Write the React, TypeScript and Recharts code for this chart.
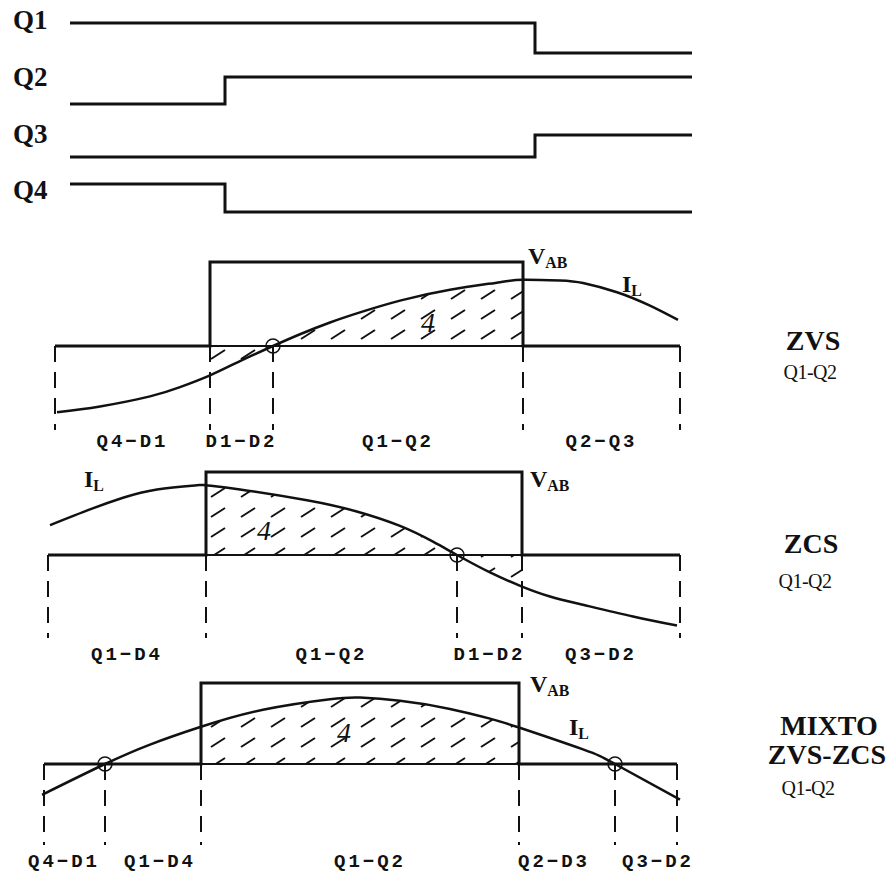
import React from "react";
import {
  ComposedChart,
  LineChart,
  Line,
  Area,
  XAxis,
  YAxis,
  ReferenceLine,
  ReferenceDot,
} from "recharts";

const W = 894;
const H = 875;
const INK = "#111";
const SERIF = '"Liberation Serif", "DejaVu Serif", serif';
const MONO = '"Liberation Mono", "DejaVu Sans Mono", monospace';

// gate drive signals, 1 = on
const gateNames = ["Q1", "Q2", "Q3", "Q4"];
const gateTimes = [70, 225, 535, 692];
const gateQ1 = [1, 1, 0, 0];
const gateQ2 = [0, 1, 1, 1];
const gateQ3 = [0, 0, 1, 1];
const gateQ4 = [1, 0, 0, 0];

// ZVS case
const zvsTime = [57, 100, 150, 180, 210, 240, 273, 300, 330, 360, 400, 450, 500, 523, 560, 583, 617, 650, 678];
const zvsCurrent = [-0.79, -0.72, -0.6, -0.49, -0.35, -0.18, 0, 0.14, 0.28, 0.4, 0.54, 0.67, 0.76, 0.79, 0.78, 0.75, 0.64, 0.48, 0.31];
const zvsEdges = [55, 210, 523, 680];
const zvsVab = [0, 1, 0, 0];
const zvsMarks = [55, 210, 273, 523, 680];
const zvsPhases = ["Q4−D1", "D1−D2", "Q1−Q2", "Q2−Q3"];

// ZCS case
const zcsTime = [50, 90, 123, 157, 197, 206, 240, 307, 355, 400, 433, 457, 490, 522, 550, 583, 633, 677];
const zcsCurrent = [0.36, 0.55, 0.69, 0.79, 0.84, 0.84, 0.79, 0.66, 0.53, 0.35, 0.16, 0, -0.21, -0.38, -0.5, -0.6, -0.74, -0.85];
const zcsEdges = [48, 206, 522, 680];
const zcsVab = [0, 1, 0, 0];
const zcsMarks = [48, 206, 457, 522, 680];
const zcsPhases = ["Q1−D4", "Q1−Q2", "D1−D2", "Q3−D2"];

// mixed ZVS-ZCS case
const mixTime = [42, 105, 150, 201, 263, 330, 360, 400, 450, 490, 519, 583, 615, 680];
const mixCurrent = [-0.38, 0, 0.24, 0.46, 0.67, 0.8, 0.82, 0.78, 0.68, 0.56, 0.45, 0.18, 0, -0.44];
const mixEdges = [44, 201, 519, 677];
const mixVab = [0, 1, 0, 0];
const mixMarks = [44, 105, 201, 519, 615, 677];
const mixPhases = ["Q4−D1", "Q1−D4", "Q1−Q2", "Q2−D3", "Q3−D2"];

const gateLanes = [
  { high: 23, low: 53, labelY: 20 },
  { high: 77, low: 104, labelY: 77 },
  { high: 135, low: 157, labelY: 134 },
  { high: 184, low: 212, labelY: 190 },
];

function GateLane({ levels, lane }: any) {
  const data = gateTimes.map((t, i) => ({ t, v: levels[i] }));
  const pad = 6;
  return (
    <div style={{ position: "absolute", left: 0, top: lane.high - pad }}>
      <LineChart
        width={W}
        height={lane.low - lane.high + pad * 2}
        data={data}
        margin={{ top: pad, right: 0, bottom: pad, left: 0 }}
      >
        <XAxis type="number" dataKey="t" domain={[0, W]} hide />
        <YAxis type="number" domain={[0, 1]} hide />
        <Line
          dataKey="v"
          type="stepAfter"
          stroke={INK}
          strokeWidth={3}
          dot={false}
          isAnimationActive={false}
        />
      </LineChart>
    </div>
  );
}

function Sub({ main, sub, size }: any) {
  return (p: any) => (
    <text x={p.cx} y={p.cy} fontFamily={SERIF} fontWeight="bold" fontSize={size} fill={INK}>
      {main}
      <tspan fontSize={size * 0.66} dy={4}>
        {sub}
      </tspan>
    </text>
  );
}

function Panel(props: any) {
  const { id, top, height, zeroY, unit, time, current, edges, vab, marks, phases, phaseLevel, phaseAt, vabAt, ilAt, areaAt } = props;
  const domain = [-(top + height - zeroY) / unit, (zeroY - top) / unit];
  const il = time.map((t: number, i: number) => ({ t, v: current[i] }));
  const step = edges.map((t: number, i: number) => ({ t, v: vab[i] }));
  const hatch = il.filter((p: any) => p.t >= edges[1] && p.t <= edges[2]);
  const zeros = il.filter((p: any) => p.v === 0);
  const mids = phases.map((name: string, i: number) => ({
    name,
    t: phaseAt ? phaseAt[i] : (marks[i] + marks[i + 1]) / 2,
  }));
  return (
    <div style={{ position: "absolute", left: 0, top }}>
      <ComposedChart width={W} height={height} margin={{ top: 0, right: 0, bottom: 0, left: 0 }}>
        <defs>
          <pattern id={`hatch-${id}`} patternUnits="userSpaceOnUse" width={30} height={20}>
            <line x1={1} y1={19} x2={15} y2={10} stroke={INK} strokeWidth={2} />
          </pattern>
        </defs>
        <XAxis type="number" dataKey="t" domain={[0, W]} hide />
        <YAxis type="number" domain={domain} hide />
        <Area
          data={hatch}
          dataKey="v"
          type="natural"
          baseValue={0}
          fill={`url(#hatch-${id})`}
          fillOpacity={1}
          stroke="none"
          isAnimationActive={false}
        />
        <ReferenceLine
          segment={[
            { x: marks[0], y: 0 },
            { x: marks[marks.length - 1], y: 0 },
          ]}
          stroke={INK}
          strokeWidth={2}
        />
        {marks.map((m: number) => (
          <ReferenceLine
            key={m}
            segment={[
              { x: m, y: 0 },
              { x: m, y: -1 },
            ]}
            stroke={INK}
            strokeWidth={2}
            strokeDasharray="16 10"
          />
        ))}
        <Line data={step} dataKey="v" type="stepAfter" stroke={INK} strokeWidth={3} dot={false} isAnimationActive={false} />
        <Line data={il} dataKey="v" type="natural" stroke={INK} strokeWidth={2.5} dot={false} isAnimationActive={false} />
        {zeros.map((p: any) => (
          <ReferenceDot key={p.t} x={p.t} y={0} r={7} fill="none" stroke={INK} strokeWidth={1.5} />
        ))}
        {mids.map((m: any) => (
          <ReferenceDot
            key={m.name + m.t}
            x={m.t}
            y={phaseLevel}
            r={0}
            shape={(p: any) => (
              <text
                x={p.cx}
                y={p.cy}
                textAnchor="middle"
                dominantBaseline="central"
                fontFamily={MONO}
                fontWeight="bold"
                fontSize={19}
                letterSpacing={3}
                fill={INK}
              >
                {m.name}
              </text>
            )}
          />
        ))}
        <ReferenceDot x={vabAt[0]} y={vabAt[1]} r={0} shape={Sub({ main: "V", sub: "AB", size: 24 })} />
        <ReferenceDot x={ilAt[0]} y={ilAt[1]} r={0} shape={Sub({ main: "I", sub: "L", size: 24 })} />
        <ReferenceDot
          x={areaAt[0]}
          y={areaAt[1]}
          r={0}
          shape={(p: any) => (
            <text x={p.cx} y={p.cy} fontFamily={SERIF} fontStyle="italic" fontSize={28} fill={INK}>
              4
            </text>
          )}
        />
      </ComposedChart>
    </div>
  );
}

const titleBase: React.CSSProperties = {
  position: "absolute",
  transform: "translate(-50%, -50%)",
  whiteSpace: "nowrap",
  lineHeight: 1,
  fontFamily: SERIF,
  color: INK,
};

function Title({ x, y, text, small }: any) {
  return (
    <div
      style={{
        ...titleBase,
        left: x,
        top: y,
        fontSize: small ? 20 : 28,
        fontWeight: small ? "normal" : "bold",
        letterSpacing: small ? -0.5 : 0,
      }}
    >
      {text}
    </div>
  );
}

export default function App() {
  const gates = [gateQ1, gateQ2, gateQ3, gateQ4];
  return (
    <div style={{ position: "absolute", left: 0, top: 0, width: W, height: H, background: "#fff", overflow: "hidden" }}>
      {gates.map((g, i) => (
        <GateLane key={gateNames[i]} levels={g} lane={gateLanes[i]} />
      ))}
      {gateNames.map((n, i) => (
        <div
          key={n}
          style={{
            position: "absolute",
            left: 13,
            top: gateLanes[i].labelY - 14,
            lineHeight: "28px",
            fontFamily: SERIF,
            fontWeight: "bold",
            fontSize: 27,
            color: INK,
          }}
        >
          {n}
        </div>
      ))}
      <Panel
        id="zvs"
        top={240}
        height={215}
        zeroY={346}
        unit={84}
        time={zvsTime}
        current={zvsCurrent}
        edges={zvsEdges}
        vab={zvsVab}
        marks={zvsMarks}
        phases={zvsPhases}
        phaseLevel={-1.14}
        vabAt={[528, 0.98]}
        ilAt={[622, 0.64]}
        areaAt={[421, 0.17]}
      />
      <Panel
        id="zcs"
        top={458}
        height={210}
        zeroY={555}
        unit={83}
        time={zcsTime}
        current={zcsCurrent}
        edges={zcsEdges}
        vab={zcsVab}
        marks={zcsMarks}
        phases={zcsPhases}
        phaseLevel={-1.2}
        vabAt={[530, 0.82]}
        ilAt={[84, 0.82]}
        areaAt={[257, 0.18]}
      />
      <Panel
        id="mix"
        top={668}
        height={207}
        zeroY={764}
        unit={81}
        time={mixTime}
        current={mixCurrent}
        edges={mixEdges}
        vab={mixVab}
        marks={mixMarks}
        phases={mixPhases}
        phaseLevel={-1.21}
        phaseAt={[64, 160, 370, 554, 658]}
        vabAt={[530, 0.89]}
        ilAt={[569, 0.36]}
        areaAt={[337, 0.27]}
      />
      <Title x={813} y={341} text="ZVS" />
      <Title x={810} y={372} text="Q1-Q2" small />
      <Title x={811} y={544} text="ZCS" />
      <Title x={805} y={581} text="Q1-Q2" small />
      <Title x={829} y={726} text="MIXTO" />
      <Title x={827} y={755} text="ZVS-ZCS" />
      <Title x={808} y={788} text="Q1-Q2" small />
    </div>
  );
}
